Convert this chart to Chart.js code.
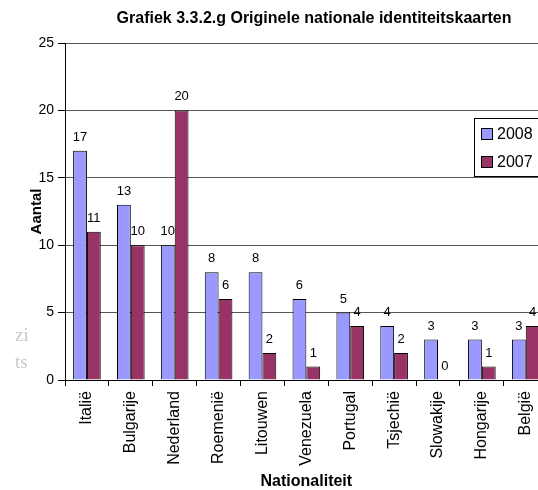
<!DOCTYPE html>
<html>
<head>
<meta charset="utf-8">
<script src="https://cdn.jsdelivr.net/npm/chart.js@4.4.1/dist/chart.umd.min.js"></script>
<style>
  html, body { margin: 0; padding: 0; background: #fff; overflow: hidden; }
  #wrap { width: 550px; height: 490px; }
</style>
</head>
<body>
<div id="wrap"><canvas id="idChart" width="550" height="490"></canvas></div>
<script>
const countries = ["Italië", "Bulgarije", "Nederland", "Roemenië", "Litouwen", "Venezuela",
  "Portugal", "Tsjechië", "Slowakije", "Hongarije", "België"];
const values2008 = [17, 13, 10, 8, 8, 6, 5, 4, 3, 3, 3];
const values2007 = [11, 10, 20, 6, 2, 1, 4, 2, 0, 1, 4];
const chartTitle = "Grafiek 3.3.2.g Originele nationale identiteitskaarten";

// value labels above each bar
const barLabels = {
  id: "barLabels",
  afterDatasetsDraw(chart) {
    const ctx = chart.ctx;
    ctx.save();
    ctx.font = "13px Arial, 'Liberation Sans'";
    ctx.fillStyle = "#000";
    ctx.textAlign = "center";
    ctx.textBaseline = "bottom";
    chart.data.datasets.forEach((ds, i) => {
      chart.getDatasetMeta(i).data.forEach((bar, j) => {
        ctx.fillText(ds.data[j], bar.x, bar.y - 7);
      });
    });
    ctx.restore();
  }
};

// title, legend box and the faint text that shows through on the left
const extras = {
  id: "extras",
  afterDraw(chart) {
    const ctx = chart.ctx;
    ctx.save();
    ctx.font = "bold 16px Arial, 'Liberation Sans'";
    ctx.fillStyle = "#000";
    ctx.textAlign = "center";
    ctx.textBaseline = "middle";
    ctx.fillText(chartTitle, 314, 19);

    ctx.fillStyle = "#fff";
    ctx.fillRect(474.5, 118.5, 90, 58);
    ctx.strokeStyle = "#000";
    ctx.lineWidth = 1;
    ctx.strokeRect(474.5, 118.5, 90, 58);
    ctx.font = "16px Arial, 'Liberation Sans'";
    ctx.textAlign = "left";
    chart.data.datasets.forEach((ds, i) => {
      const y = 134 + i * 28;
      ctx.fillStyle = ds.backgroundColor;
      ctx.fillRect(481.5, y - 5.5, 11, 11);
      ctx.strokeRect(481.5, y - 5.5, 11, 11);
      ctx.fillStyle = "#000";
      ctx.fillText(ds.label, 497, y + 1);
    });

    ctx.font = "19px 'Liberation Serif'";
    ctx.fillStyle = "#c8c8c8";
    ctx.fillText("zi", 15, 336);
    ctx.fillText("ts", 15, 363);
    ctx.restore();
  }
};

new Chart(document.getElementById("idChart"), {
  type: "bar",
  data: {
    labels: countries,
    datasets: [
      {
        label: "2008",
        data: values2008,
        backgroundColor: "#9999FF",
        borderColor: "#000",
        borderWidth: 1,
        categoryPercentage: 0.63,
        barPercentage: 1
      },
      {
        label: "2007",
        data: values2007,
        backgroundColor: "#993366",
        borderColor: "#000",
        borderWidth: 1,
        categoryPercentage: 0.63,
        barPercentage: 1
      }
    ]
  },
  options: {
    responsive: false,
    animation: false,
    layout: { padding: { top: 43, left: 25, right: 1, bottom: 0 } },
    plugins: {
      legend: { display: false },
      title: { display: false },
      tooltip: { enabled: false }
    },
    scales: {
      x: {
        afterFit(scale) { scale.height = 110; },
        border: { color: "#000" },
        grid: { drawOnChartArea: false, tickLength: 6, tickColor: "#000", offset: true },
        ticks: {
          color: "#000",
          font: { family: "Arial, 'Liberation Sans'", size: 16 },
          minRotation: 90,
          maxRotation: 90,
          padding: 5,
          autoSkip: false
        },
        title: {
          display: true,
          text: "Nationaliteit",
          color: "#000",
          font: { family: "Arial, 'Liberation Sans'", size: 16, weight: "bold", lineHeight: 1 },
          padding: { top: 0, bottom: 0 }
        }
      },
      y: {
        min: 0,
        max: 25,
        afterFit(scale) { scale.width = 40; },
        border: { color: "#000" },
        grid: { color: "#555", tickColor: "#000", tickLength: 7 },
        ticks: {
          stepSize: 5,
          color: "#000",
          padding: 4,
          font: { family: "Arial, 'Liberation Sans'", size: 14 }
        },
        title: {
          display: true,
          text: "Aantal",
          color: "#000",
          font: { family: "Arial, 'Liberation Sans'", size: 15, weight: "bold" },
          padding: { top: 3, bottom: 0 }
        }
      }
    }
  },
  plugins: [barLabels, extras]
});
</script>
</body>
</html>
